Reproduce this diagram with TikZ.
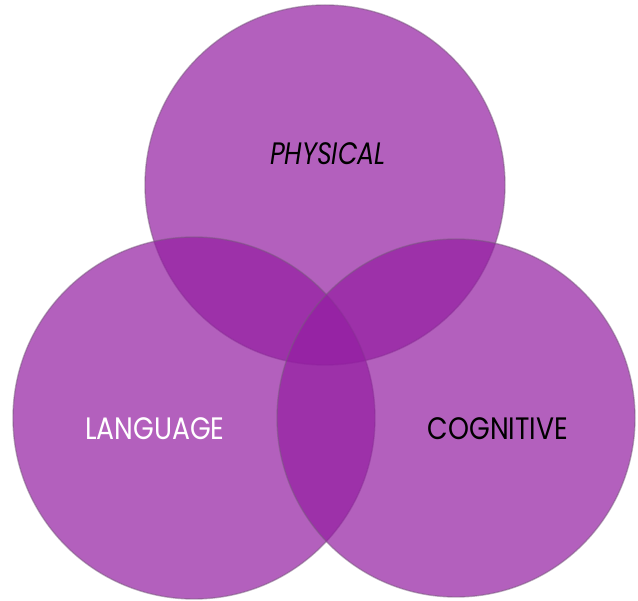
\documentclass[tikz,border=0pt]{standalone}
\usepackage{fontspec}
\setmainfont{Poppins}
\begin{document}
\begin{tikzpicture}[x=1pt,y=-1pt,
  venn/.style={circle, minimum size=#1, inner sep=0pt, fill={rgb,255:red,147;green,29;blue,161}, fill opacity=0.7, draw={rgb,255:red,120;green,90;blue,125}, draw opacity=0.5, line width=1.4pt},
  lbl/.style={font=\fontsize{31}{31}\selectfont, inner sep=0pt, text opacity=1}]
\useasboundingbox (0,0) rectangle (638,601);
\node[venn=360pt] (phys) at (325,185) {};
\node[venn=362pt] (lang) at (194,418) {};
\node[venn=358pt] (cog) at (456,418) {};
\node[lbl, text=black, font=\fontsize{31}{31}\selectfont\itshape] (tp) at (328,154) {\scalebox{0.82}[1]{PHYSICAL}};
\node[lbl, text=white] (tl) at (155,429) {\scalebox{0.86}[1]{LANGUAGE}};
\node[lbl, text=black] (tc) at (498,429) {\scalebox{0.86}[1]{COGNITIVE}};
\end{tikzpicture}
\end{document}
